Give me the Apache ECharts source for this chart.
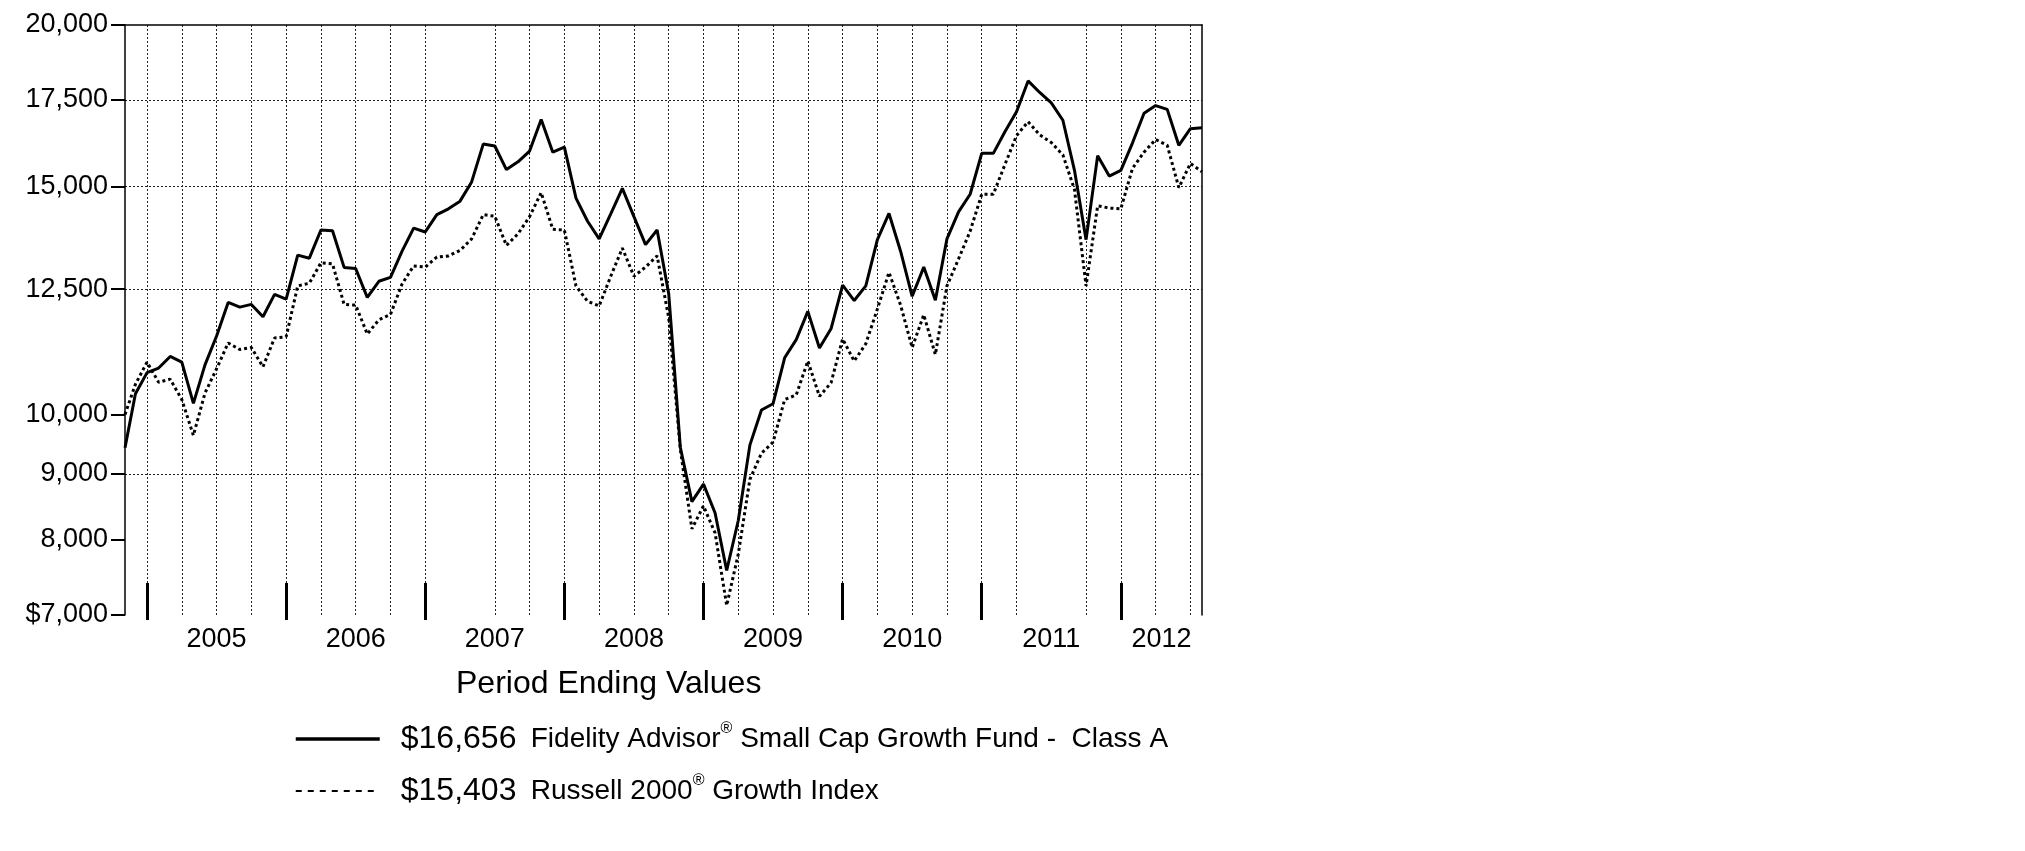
<!DOCTYPE html>
<html>
<head>
<meta charset="utf-8">
<title>Fidelity Advisor Small Cap Growth Fund - Class A</title>
<script src="https://cdn.jsdelivr.net/npm/echarts@6/dist/echarts.min.js"></script>
<style>
  html, body { margin: 0; padding: 0; background: #fff; }
  #grafico { width: 2025px; height: 851px; }
</style>
</head>
<body>
<div id="grafico"></div>
<script>
// Valores mensais (3 nov 2004 ate 31 jul 2012) de um investimento de $10,000
const fundValues = [
  9425, 10376, 10774, 10863, 11089, 10976, 10200, 10924, 11500, 12207,
  12107, 12165, 11901, 12384, 12282, 13281, 13208, 13886, 13867, 12993,
  12966, 12316, 12676, 12764, 13373, 13934, 13839, 14272, 14420, 14619,
  15128, 16181, 16125, 15463, 15677, 15981, 16906, 15950, 16092, 14699,
  14106, 13670, 14292, 14954, 14223, 13530, 13886, 12400, 9435, 8564,
  8835, 8393, 7577, 8282, 9470, 10081, 10195, 11063, 11427, 12016,
  11258, 11648, 12589, 12249, 12572, 13651, 14302, 13373, 12342, 13000,
  12257, 13670, 14341, 14800, 15916, 15916, 16539, 17139, 18106, 17737,
  17412, 16883, 15443, 13651, 15851, 15285, 15443, 16210, 17093, 17329,
  17211, 16147, 16630, 16656
];
const indexValues = [
  10000, 10555, 10976, 10592, 10650, 10270, 9636, 10390, 10849, 11359,
  11227, 11266, 10886, 11460, 11484, 12572, 12633, 13100, 13074, 12165,
  12149, 11540, 11836, 11950, 12615, 13028, 13000, 13235, 13262, 13391,
  13670, 14272, 14230, 13511, 13793, 14223, 14842, 13905, 13886, 12572,
  12232, 12132, 12790, 13447, 12790, 13000, 13262, 11880, 9400, 8160,
  8500, 8100, 7120, 7800, 8910, 9335, 9520, 10270, 10355, 11000,
  10330, 10580, 11440, 10998, 11343, 12066, 12878, 12149, 11266, 11942,
  11127, 12572, 13190, 13858, 14800, 14800, 15602, 16426, 16840, 16449,
  16225, 15873, 14923, 12572, 14500, 14440, 14420, 15495, 15950, 16314,
  16147, 14974, 15635, 15403
];

// posicao no eixo x: meses depois de 31 dez 2004 (o primeiro ponto e 3 nov 2004)
const startMonth = -1.9;
const monthPos = [startMonth].concat(fundValues.slice(1).map((_, k) => k - 1));
const lastMonth = monthPos[monthPos.length - 1];

const yTicks = [7000, 8000, 9000, 10000, 12500, 15000, 17500, 20000];
const yGridValues = [9000, 12500, 15000, 17500];
// fins de trimestre com linha pontilhada (mar 2007 e jun 2011 nao tem linha no original)
const quarterEnds = [0, 3, 6, 9, 12, 15, 18, 21, 24, 30, 33, 36, 39, 42, 45, 48, 51,
  54, 57, 60, 63, 66, 69, 72, 75, 81, 84, 87, 90];
const yearEnds = [0, 12, 24, 36, 48, 60, 72, 84];
const yearLabelPos = [6, 18, 30, 42, 54, 66, 78, 87.5];
const yearLabels = ['2005', '2006', '2007', '2008', '2009', '2010', '2011', '2012'];

const seriesNames = ['Fidelity Advisor® Small Cap Growth Fund -  Class A', 'Russell 2000® Growth Index'];
const endingValues = ['$16,656', '$15,403'];
const legendTitle = 'Period Ending Values';

const FONTE = '"Liberation Sans", Arial, sans-serif';

function formatarLegenda(name) {
  const i = seriesNames.indexOf(name);
  const partes = name.split('®');
  return '{v|' + endingValues[i] + '}{n|' + partes[0] + '}{s|®}{n|' + partes[1] + '}';
}

function formatarY(v) {
  const n = Math.round(v);
  return (n === 7000 ? '$' : '') + n.toLocaleString('en-US');
}

const chart = echarts.init(document.getElementById('grafico'), null, { renderer: 'canvas' });

chart.setOption({
  animation: false,
  backgroundColor: '#fff',
  textStyle: { fontFamily: FONTE, color: '#000' },
  title: {
    text: legendTitle,
    left: 456,
    top: 668,
    padding: 0,
    textStyle: { fontFamily: FONTE, fontSize: 32, fontWeight: 'normal', color: '#000' }
  },
  legend: {
    orient: 'vertical',
    left: 294,
    top: 721,
    padding: 0,
    itemWidth: 84,
    itemHeight: 14,
    itemGap: 16,
    data: [
      {
        name: seriesNames[0],
        itemStyle: { opacity: 0, borderWidth: 0 },
        lineStyle: { color: '#000', width: 3.5, type: 'solid' }
      },
      {
        name: seriesNames[1],
        itemStyle: { opacity: 0, borderWidth: 0 },
        lineStyle: { color: '#000', width: 2, type: [6, 6] }
      }
    ],
    formatter: formatarLegenda,
    textStyle: {
      fontFamily: FONTE,
      fontSize: 28,
      lineHeight: 36,
      color: '#000',
      rich: {
        v: { fontFamily: FONTE, fontSize: 32, width: 130, padding: [0, 0, 0, 16], color: '#000' },
        n: { fontFamily: FONTE, fontSize: 28, color: '#000' },
        s: { fontFamily: FONTE, fontSize: 16, verticalAlign: 'top', lineHeight: 32, color: '#000' }
      }
    }
  },
  grid: {
    left: 125,
    right: 2025 - 1202,
    top: 25,
    bottom: 851 - 615,
    containLabel: false,
    outerBoundsMode: 'none'
  },
  xAxis: [
    {
      // eixo dos dados: borda de cima e linhas pontilhadas trimestrais
      type: 'value',
      position: 'top',
      min: startMonth,
      max: lastMonth,
      axisLine: { show: true, onZero: false, lineStyle: { color: '#000', width: 1.5 } },
      axisTick: { show: false, customValues: quarterEnds },
      axisLabel: { show: false },
      splitLine: { show: true, lineStyle: { color: '#222', width: 1, type: [2, 2] } }
    },
    {
      // marcas de fim de ano e rotulos dos anos
      type: 'value',
      position: 'bottom',
      offset: 5,
      min: startMonth,
      max: lastMonth,
      axisLine: { show: false, onZero: false },
      axisTick: {
        show: true,
        inside: true,
        length: 37,
        customValues: yearEnds,
        lineStyle: { color: '#000', width: 3 }
      },
      axisLabel: {
        show: true,
        customValues: yearLabelPos,
        formatter: v => yearLabels[yearLabelPos.indexOf(v)],
        margin: 6,
        fontFamily: FONTE,
        fontSize: 27,
        color: '#000'
      },
      splitLine: { show: false }
    }
  ],
  yAxis: [
    {
      type: 'log',
      logBase: 10,
      position: 'left',
      min: 7000,
      max: 20000,
      axisLine: { show: true, onZero: false, lineStyle: { color: '#000', width: 1.5 } },
      axisTick: { show: true, inside: false, length: 14, customValues: yTicks, lineStyle: { color: '#000', width: 2 } },
      axisLabel: {
        customValues: yTicks,
        formatter: formatarY,
        margin: 17,
        fontFamily: FONTE,
        fontSize: 27,
        color: '#000'
      },
      splitLine: { show: false }
    },
    {
      // borda da direita e linhas horizontais pontilhadas
      type: 'log',
      logBase: 10,
      position: 'right',
      min: 7000,
      max: 20000,
      axisLine: { show: true, onZero: false, lineStyle: { color: '#000', width: 1.5 } },
      axisTick: { show: false, customValues: yGridValues },
      axisLabel: { show: false },
      splitLine: { show: true, lineStyle: { color: '#222', width: 1, type: [2, 2] } }
    }
  ],
  series: [
    {
      name: seriesNames[0],
      type: 'line',
      xAxisIndex: 0,
      yAxisIndex: 0,
      data: fundValues.map((v, i) => [monthPos[i], v]),
      showSymbol: false,
      symbol: 'none',
      z: 4,
      lineStyle: { color: '#000', width: 3 }
    },
    {
      name: seriesNames[1],
      type: 'line',
      xAxisIndex: 0,
      yAxisIndex: 0,
      data: indexValues.map((v, i) => [monthPos[i], v]),
      showSymbol: false,
      symbol: 'none',
      z: 3,
      lineStyle: { color: '#000', width: 3, type: [3, 3] }
    }
  ]
});
</script>
</body>
</html>
